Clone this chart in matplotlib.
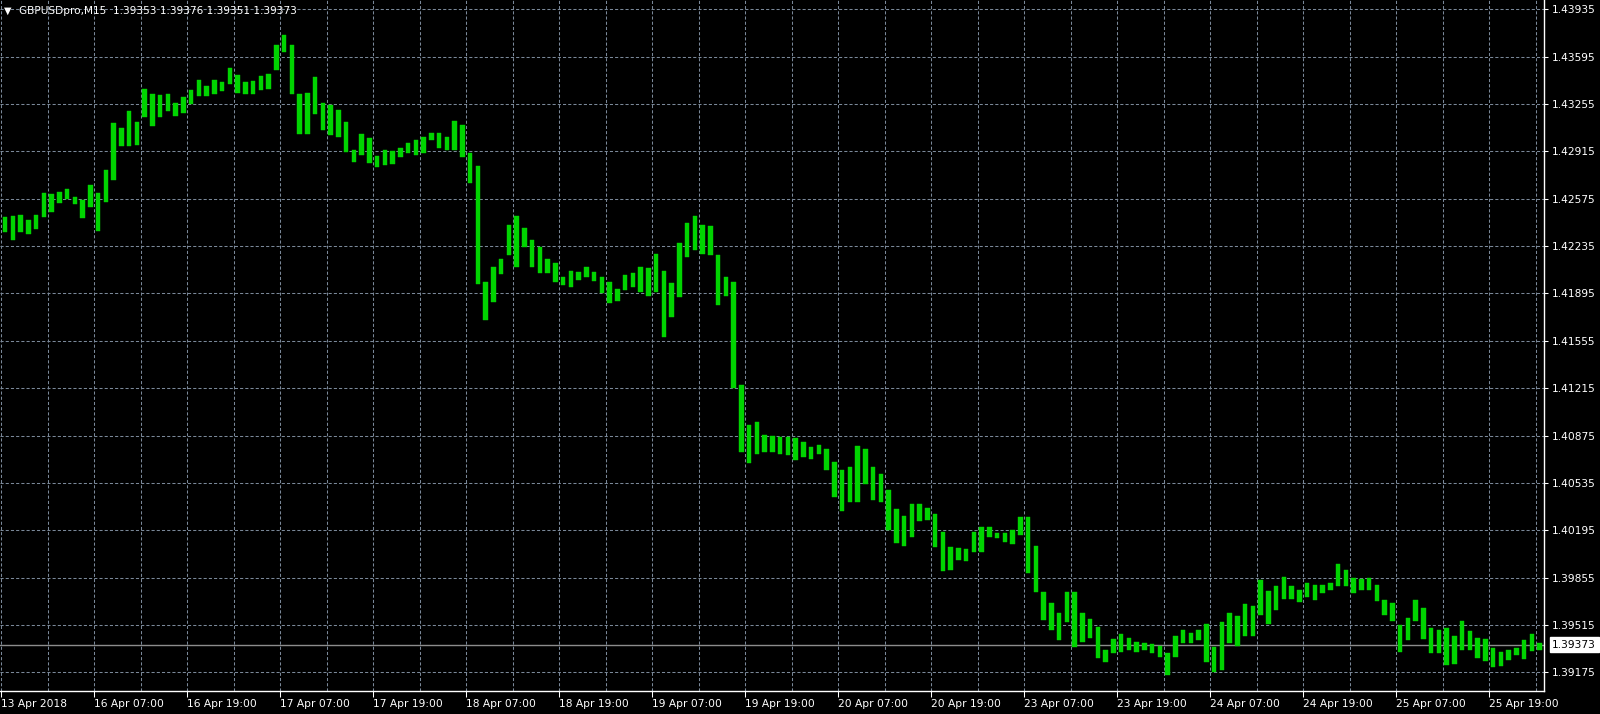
import matplotlib
matplotlib.use("Agg")
import matplotlib.pyplot as plt
import numpy as np

bar_high = [
    1.42443, 1.42448, 1.42462, 1.42419, 1.42460, 1.42618, 1.42606, 1.42623, 1.42647, 1.42587,
    1.42563, 1.42676, 1.42616, 1.42783, 1.43118, 1.43085, 1.43205, 1.43126, 1.43365, 1.43329,
    1.43317, 1.43329, 1.43262, 1.43305, 1.43358, 1.43425, 1.43382, 1.43425, 1.43413, 1.43516,
    1.43461, 1.43413, 1.43418, 1.43454, 1.43473, 1.43676, 1.43748, 1.43676, 1.43329, 1.43334,
    1.43450, 1.43260, 1.43248, 1.43212, 1.43128, 1.42925, 1.43039, 1.43008, 1.42881, 1.42925,
    1.42920, 1.42937, 1.42972, 1.42996, 1.43020, 1.43049, 1.43044, 1.43020, 1.43135, 1.43104,
    1.42901, 1.42810, 1.41979, 1.42087, 1.42145, 1.42386, 1.42451, 1.42362, 1.42278, 1.42230,
    1.42144, 1.42111, 1.42015, 1.42058, 1.42051, 1.42087, 1.42051, 1.42015, 1.41979, 1.41930,
    1.42031, 1.42039, 1.42082, 1.42075, 1.42177, 1.42058, 1.41967, 1.42259, 1.42403, 1.42450,
    1.42386, 1.42379, 1.42170, 1.42010, 1.41979, 1.41237, 1.40949, 1.40973, 1.40882, 1.40870,
    1.40865, 1.40861, 1.40854, 1.40830, 1.40794, 1.40806, 1.40782, 1.40686, 1.40631, 1.40650,
    1.40799, 1.40775, 1.40650, 1.40602, 1.40483, 1.40350, 1.40300, 1.40380, 1.40380, 1.40358,
    1.40312, 1.40185, 1.40073, 1.40066, 1.40059, 1.40185, 1.40221, 1.40217, 1.40178, 1.40173,
    1.40197, 1.40293, 1.40293, 1.40082, 1.39755, 1.39671, 1.39599, 1.39750, 1.39755, 1.39604,
    1.39556, 1.39503, 1.39336, 1.39412, 1.39448, 1.39424, 1.39395, 1.39388, 1.39376, 1.39364,
    1.39312, 1.39436, 1.39479, 1.39455, 1.39479, 1.39520, 1.39359, 1.39539, 1.39599, 1.39582,
    1.39666, 1.39649, 1.39836, 1.39757, 1.39793, 1.39857, 1.39793, 1.39769, 1.39817, 1.39805,
    1.39805, 1.39817, 1.39955, 1.39912, 1.39853, 1.39845, 1.39853, 1.39805, 1.39697, 1.39673,
    1.39517, 1.39565, 1.39692, 1.39637, 1.39493, 1.39481, 1.39493, 1.39434, 1.39546, 1.39470,
    1.39422, 1.39414, 1.39350, 1.39319, 1.39338, 1.39350, 1.39410, 1.39450, 1.39386,
]
bar_low = [
    1.42336, 1.42281, 1.42336, 1.42324, 1.42360, 1.42443, 1.42479, 1.42544, 1.42575, 1.42534,
    1.42439, 1.42515, 1.42343, 1.42551, 1.42707, 1.42951, 1.42951, 1.42958, 1.43162, 1.43095,
    1.43162, 1.43205, 1.43166, 1.43190, 1.43257, 1.43310, 1.43315, 1.43324, 1.43348, 1.43396,
    1.43333, 1.43329, 1.43324, 1.43358, 1.43365, 1.43501, 1.43628, 1.43329, 1.43042, 1.43042,
    1.43180, 1.43070, 1.43032, 1.43020, 1.42913, 1.42841, 1.42889, 1.42829, 1.42805, 1.42817,
    1.42825, 1.42877, 1.42905, 1.42889, 1.42901, 1.42996, 1.42937, 1.42925, 1.42925, 1.42877,
    1.42685, 1.41962, 1.41708, 1.41835, 1.42035, 1.42170, 1.42087, 1.42230, 1.42087, 1.42039,
    1.42039, 1.41979, 1.41955, 1.41943, 1.41991, 1.42015, 1.41986, 1.41895, 1.41828, 1.41840,
    1.41919, 1.41938, 1.41907, 1.41876, 1.41907, 1.41584, 1.41723, 1.41871, 1.42158, 1.42206,
    1.42182, 1.42170, 1.41811, 1.41876, 1.41213, 1.40758, 1.40675, 1.40741, 1.40758, 1.40758,
    1.40741, 1.40734, 1.40698, 1.40722, 1.40710, 1.40746, 1.40626, 1.40435, 1.40330, 1.40399,
    1.40399, 1.40530, 1.40415, 1.40399, 1.40200, 1.40100, 1.40080, 1.40150, 1.40260, 1.40269,
    1.40078, 1.39905, 1.39910, 1.39982, 1.39975, 1.40042, 1.40042, 1.40150, 1.40138, 1.40114,
    1.40097, 1.40161, 1.39886, 1.39755, 1.39551, 1.39479, 1.39407, 1.39539, 1.39359, 1.39395,
    1.39419, 1.39276, 1.39252, 1.39312, 1.39324, 1.39336, 1.39324, 1.39336, 1.39312, 1.39283,
    1.39156, 1.39288, 1.39383, 1.39388, 1.39407, 1.39252, 1.39180, 1.39192, 1.39383, 1.39362,
    1.39434, 1.39434, 1.39589, 1.39525, 1.39620, 1.39702, 1.39702, 1.39678, 1.39716, 1.39692,
    1.39745, 1.39769, 1.39793, 1.39793, 1.39745, 1.39764, 1.39764, 1.39685, 1.39589, 1.39541,
    1.39319, 1.39410, 1.39541, 1.39414, 1.39314, 1.39314, 1.39230, 1.39237, 1.39338, 1.39333,
    1.39278, 1.39254, 1.39211, 1.39218, 1.39266, 1.39302, 1.39271, 1.39326, 1.39338,
]

time_labels = [
    "13 Apr 2018", "16 Apr 07:00", "16 Apr 19:00", "17 Apr 07:00", "17 Apr 19:00",
    "18 Apr 07:00", "18 Apr 19:00", "19 Apr 07:00", "19 Apr 19:00", "20 Apr 07:00",
    "20 Apr 19:00", "23 Apr 07:00", "23 Apr 19:00", "24 Apr 07:00", "24 Apr 19:00",
    "25 Apr 07:00", "25 Apr 19:00",
]
price_ticks = [1.39175, 1.39515, 1.39855, 1.40195, 1.40535, 1.40875, 1.41215,
               1.41555, 1.41895, 1.42235, 1.42575, 1.42915, 1.43255, 1.43595, 1.43935]

symbol = "GBPUSDpro,M15"
last_ohlc = [1.39353, 1.39376, 1.39351, 1.39373]
last_price = last_ohlc[3]

GREEN = "#00D400"
GRID = "#7A8899"
FS = 7.7

fig = plt.figure(figsize=(16, 7.14), dpi=100, facecolor="black")
ax = fig.add_axes([0, 1 - 691 / 714, 1544 / 1600, 691 / 714])
ax.set_facecolor("black")

hours = np.arange(len(bar_high))
highs = np.array(bar_high)
lows = np.array(bar_low)
# one thin stroke per hour, like the dense M15 bars of the terminal
ax.bar(hours + 0.5, highs - lows, bottom=lows, width=0.58,
       color=GREEN, edgecolor=GREEN, linewidth=0.3, zorder=3)

ax.set_xlim(-0.15, 199.08)
ax.set_ylim(1.39041, 1.44002)

# grid and ticks
ax.set_xticks(np.arange(len(time_labels)) * 12)
ax.set_xticklabels(time_labels)
ax.set_xticks(np.arange(6, 200, 12), minor=True)
ax.set_yticks(price_ticks)
ax.set_yticklabels([f"{p:.5f}" for p in price_ticks])
ax.yaxis.tick_right()

ax.grid(which="both", axis="x", color=GRID, linestyle=(0, (3, 2)), linewidth=0.75, zorder=1)
ax.grid(which="major", axis="y", color=GRID, linestyle=(0, (3, 2)), linewidth=0.75, zorder=1)

ax.tick_params(axis="x", which="major", colors="white", labelsize=FS,
               length=4, width=0.75, pad=2)
ax.tick_params(axis="x", which="minor", length=0)
ax.tick_params(axis="y", colors="white", labelsize=FS, length=3, width=0.75, pad=3)
for lab in ax.get_xticklabels():
    lab.set_horizontalalignment("left")

for side in ("top", "left"):
    ax.spines[side].set_visible(False)
for side in ("right", "bottom"):
    ax.spines[side].set_color("white")
    ax.spines[side].set_linewidth(1)

# current price line and marker
ax.axhline(last_price, color="#8C8C8C", linewidth=1, zorder=2)
ax.annotate(f"{last_price:.5f}", xy=(1.0, last_price), xycoords=("axes fraction", "data"),
            xytext=(6, 0), textcoords="offset points", ha="left", va="center",
            fontsize=FS, color="black",
            bbox=dict(boxstyle="square,pad=0.25", facecolor="white", edgecolor="white"))

# header
fig.text(4 / 1600, 1 - 11 / 714, "\u25BC", color="white", fontsize=7, va="center")
fig.text(19 / 1600, 1 - 11 / 714,
         symbol + "  " + " ".join(f"{v:.5f}" for v in last_ohlc),
         color="white", fontsize=7.6, va="center")

fig.savefig("out.png", dpi=100, facecolor="black")
